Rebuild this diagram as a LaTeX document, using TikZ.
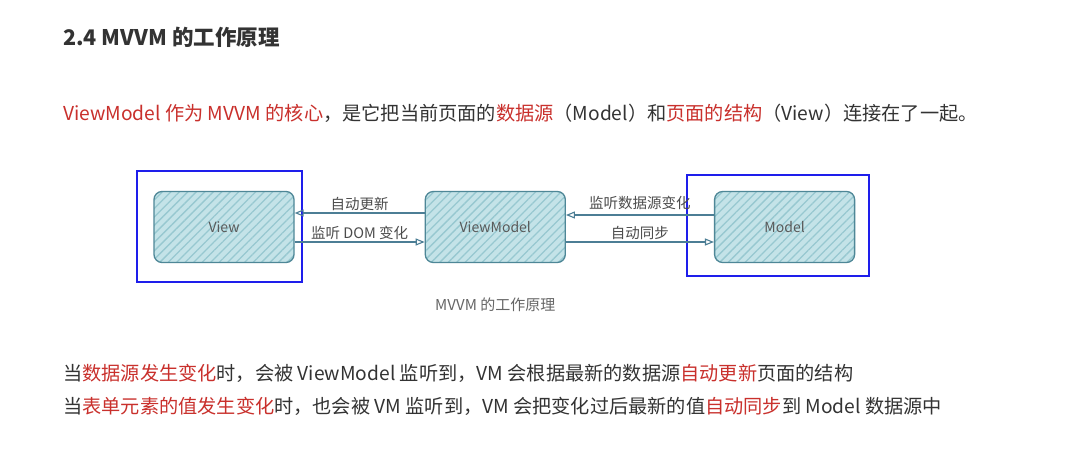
\documentclass[tikz,border=0pt]{standalone}
\usepackage{fontspec}
\setmainfont{Noto Sans CJK SC}
\usepackage{xcolor}
\usepackage{tikz}
\usetikzlibrary{arrows.meta,positioning,patterns.meta}
\definecolor{docred}{HTML}{C9302C}
\definecolor{doctext}{HTML}{333333}
\definecolor{boxfill}{HTML}{C4E3E8}
\definecolor{boxhatch}{HTML}{97C8D0}
\definecolor{boxline}{HTML}{4E8797}
\definecolor{flowline}{HTML}{4C7E95}
\definecolor{markblue}{HTML}{1E1EEB}
\newcommand{\redtxt}[1]{\textcolor{docred}{#1}}

\begin{document}
\begin{tikzpicture}[x=1pt, y=-1pt,
    node distance=130pt,
    box/.style={rectangle, rounded corners=8pt, draw=boxline, line width=1.3pt, preaction={fill=boxfill}, pattern={Lines[angle=45, distance=6pt, line width=1.3pt]}, pattern color=boxhatch, minimum width=140pt, minimum height=71pt, font=\fontsize{14}{16}\selectfont, text=black!65},
    flow/.style={draw=flowline, line width=1.1pt, -{Triangle[open, length=9pt, width=7pt]}},
    flowlabel/.style={font=\fontsize{14.5}{17}\selectfont, text=black!70, inner sep=2pt},
    markbox/.style={draw=markblue, line width=2.5pt},
    para/.style={anchor=west, inner sep=0pt, text=doctext, font=\fontsize{19.2}{23}\selectfont}
]
\useasboundingbox[fill=white] (0,0) rectangle (1080,473);

\node [para, font=\fontsize{21.5}{25}\selectfont\bfseries] (title) at (63,37) {2.4 MVVM 的工作原理};
\node [para] (intro) at (63,113) {\redtxt{ViewModel 作为 MVVM 的核心}，是它把当前页面的\redtxt{数据源}（Model）和\redtxt{页面的结构}（View）连接在了一起。};

\node [box] (view) at (224,227) {View};
\node [box, right=of view] (vm) {ViewModel};
\node [box, right=148pt of vm] (model) {Model};

\draw [markbox] (137,171) rectangle (302,282);
\draw [markbox] (687,175) rectangle (869,276);

\draw [flow] ([yshift=14pt]vm.west) -- node [flowlabel, above] {自动更新} ([yshift=14pt]view.east);
\draw [flow] ([yshift=-15pt]view.east) -- node [flowlabel, above] {监听 DOM 变化} ([yshift=-15pt]vm.west);
\draw [flow] ([yshift=12pt]model.west) -- node [flowlabel, above=3pt] {监听数据源变化} ([yshift=12pt]vm.east);
\draw [flow] ([yshift=-15pt]vm.east) -- node [flowlabel, above] {自动同步} ([yshift=-15pt]model.west);

\node [flowlabel, font=\fontsize{15}{18}\selectfont, text=black!60, below=32pt of vm] (caption) {MVVM 的工作原理};

\node [para] (line1) at (63,373) {当\redtxt{数据源发生变化}时，会被 ViewModel 监听到，VM 会根据最新的数据源\redtxt{自动更新}页面的结构};
\node [para] (line2) at (63,406) {当\redtxt{表单元素的值发生变化}时，也会被 VM 监听到，VM 会把变化过后最新的值\redtxt{自动同步}到 Model 数据源中};

\end{tikzpicture}
\end{document}
